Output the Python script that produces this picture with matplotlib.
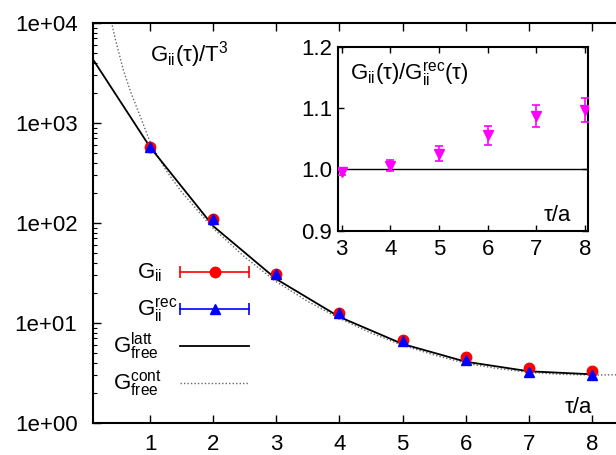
import matplotlib
matplotlib.use("Agg")
import matplotlib.pyplot as plt
from matplotlib.ticker import FixedLocator, FuncFormatter, NullFormatter
import numpy as np

plt.rcParams['font.family'] = ['Liberation Sans', 'DejaVu Sans']
plt.rcParams['mathtext.fontset'] = 'custom'
plt.rcParams['mathtext.rm'] = 'Liberation Sans'
plt.rcParams['mathtext.it'] = 'Liberation Sans:italic'
plt.rcParams['mathtext.bf'] = 'Liberation Sans:bold'

# ---------------- data ----------------
tau = [1, 2, 3, 4, 5, 6, 7, 8]
G_ii = [569, 110, 30.9, 12.7, 6.79, 4.52, 3.56, 3.33]
G_rec = [572, 109, 31.0, 12.6, 6.62, 4.28, 3.27, 3.04]

latt_tau = [0, 1, 2, 3, 4, 5, 6, 7, 8]
latt_G = [5370, 575, 93.3, 27.5, 11.5, 6.17, 4.10, 3.29, 3.07]

cont_tau = [0.39, 0.45, 0.5, 0.577, 0.7, 0.868, 1.0, 1.25, 1.5, 2.0, 2.5,
            3.0, 3.5, 4.0, 4.5, 5.0, 5.5, 6.0, 6.5, 7.0, 7.5, 8.0, 8.4]
cont_logG = [4.01, 3.84, 3.72, 3.53, 3.30, 3.03, 2.81, 2.53, 2.31, 1.947, 1.66,
             1.413, 1.215, 1.047, 0.90, 0.777, 0.68, 0.597, 0.545, 0.507, 0.487, 0.480, 0.482]
cont_G = [10 ** v for v in cont_logG]

ratio_tau = [3, 4, 5, 6, 7, 8]
ratio = [0.995, 1.0056, 1.0256, 1.056, 1.087, 1.097]
ratio_err = [0.005, 0.009, 0.012, 0.0155, 0.018, 0.0196]

main_xticks = [1, 2, 3, 4, 5, 6, 7, 8]
main_yticks = [1, 10, 100, 1000, 10000]
inset_xticks = [3, 4, 5, 6, 7, 8]
inset_yticks = [0.9, 1.0, 1.1, 1.2]

W, H = 616, 455
fig = plt.figure(figsize=(W / 100, H / 100), dpi=100)

def fx(px):
    return px / W

def fy(py):
    return 1 - py / H

# ---------------- main axes ----------------
L, R, T, B = 92.7, 616.0, 23.0, 423.0
ax = fig.add_axes([fx(L), fy(B), fx(R) - fx(L), (B - T) / H])
ax.set_yscale('log')
ax.set_xlim(0.0925, 8.38)
ax.set_ylim(1, 1e4)

ax.plot(cont_tau, cont_G, color='#666666', lw=1.0, ls=(0, (1, 1.5)), zorder=2)
ax.plot(latt_tau, latt_G, color='black', lw=1.3, zorder=3)
ax.plot(tau, G_ii, 'o', color='red', ms=7.5, mec='red', zorder=4)
ax.plot(tau, G_rec, '^', color='blue', ms=6.5, mec='blue', zorder=5)

ax.spines['right'].set_visible(False)
for s in ['left', 'top', 'bottom']:
    ax.spines[s].set_linewidth(1.5)
ax.xaxis.set_major_locator(FixedLocator(main_xticks))
ax.yaxis.set_major_locator(FixedLocator(main_yticks))
ax.yaxis.set_major_formatter(FuncFormatter(lambda v, p: f"{v:.0e}"))
ax.yaxis.set_minor_formatter(NullFormatter())
ax.tick_params(axis='both', which='major', direction='in', length=5.5, width=1.0,
               labelsize=16, top=True, right=False)
ax.tick_params(axis='x', which='major', pad=8)
ax.tick_params(axis='y', which='major', pad=11)
ax.tick_params(axis='y', which='minor', direction='in', length=3, width=0.8, right=False)
ax.tick_params(axis='x', which='minor', bottom=False, top=False)

fig.text(fx(150), fy(61.7), r'$\mathrm{G_{ii}(τ)/T^{3}}$', fontsize=16, ha='left', va='baseline')
fig.text(fx(565), fy(413), 'τ/a', fontsize=16, ha='left', va='baseline')

# ---------------- legend (drawn by hand, gnuplot style) ----------------
x0, x1, xm = 180, 249, 214.5
rows = [271.7, 309.0, 345.7, 382.7]
def axc(px, py):
    return ((px - L) / (R - L), (B - py) / (B - T))

for col, mk, ms, py in [('red', 'o', 7.5, rows[0]), ('blue', '^', 6.5, rows[1])]:
    a0 = axc(x0, py); a1 = axc(x1, py); am = axc(xm, py)
    ax.plot([a0[0], a1[0]], [a0[1], a1[1]], color=col, lw=1.2, transform=ax.transAxes, clip_on=False)
    ax.plot([a0[0], a1[0]], [a0[1], a1[1]], ls='none', marker='|', ms=8, mew=1.2, color=col,
            transform=ax.transAxes, clip_on=False)
    ax.plot([am[0]], [am[1]], marker=mk, ms=ms, color=col, transform=ax.transAxes, clip_on=False)
a0 = axc(x0, rows[2]); a1 = axc(x1, rows[2])
ax.plot([a0[0], a1[0]], [a0[1], a1[1]], color='black', lw=1.3, transform=ax.transAxes)
a0 = axc(x0, rows[3]); a1 = axc(x1, rows[3])
ax.plot([a0[0], a1[0]], [a0[1], a1[1]], color='#666666', lw=1.0, ls=(0, (1, 1.5)), transform=ax.transAxes)

fig.text(fx(137.3), fy(278), r'$\mathrm{G_{ii}}$', fontsize=16, ha='left', va='baseline')
fig.text(fx(137.3), fy(316), r'$\mathrm{G_{ii}^{rec}}$', fontsize=16, ha='left', va='baseline')
fig.text(fx(112.7), fy(353), r'$\mathrm{G_{free}^{latt}}$', fontsize=16, ha='left', va='baseline')
fig.text(fx(112.7), fy(389), r'$\mathrm{G_{free}^{cont}}$', fontsize=16, ha='left', va='baseline')

# ---------------- inset ----------------
iL, iR, iT, iB = 338.3, 588.0, 46.7, 230.7
ax2 = fig.add_axes([fx(iL), fy(iB), fx(iR) - fx(iL), (iB - iT) / H])
ax2.set_xlim(2.93, 8.06)
ax2.set_ylim(0.9, 1.2)
ax2.axhline(1.0, color='black', lw=1.0, zorder=1)
ax2.errorbar(ratio_tau, ratio, yerr=ratio_err, fmt='v', color='#ff00ff', ms=7,
             elinewidth=1.2, capsize=3, capthick=1.2, zorder=3)
for s in ax2.spines.values():
    s.set_linewidth(1.5)
ax2.xaxis.set_major_locator(FixedLocator(inset_xticks))
ax2.yaxis.set_major_locator(FixedLocator(inset_yticks))
ax2.yaxis.set_major_formatter(FuncFormatter(lambda v, p: f"{v:.1f}"))
ax2.tick_params(axis='both', which='major', direction='in', length=4, width=1.0,
                labelsize=16, top=True, right=True)
ax2.tick_params(axis='x', pad=6)
ax2.tick_params(axis='y', pad=4.5)
fig.text(fx(350), fy(80), r'$\mathrm{G_{ii}(τ)/G_{ii}^{rec}(τ)}$', fontsize=16, ha='left', va='baseline')
fig.text(fx(543.3), fy(220.7), 'τ/a', fontsize=16, ha='left', va='baseline')

fig.savefig('out.png', dpi=100)
